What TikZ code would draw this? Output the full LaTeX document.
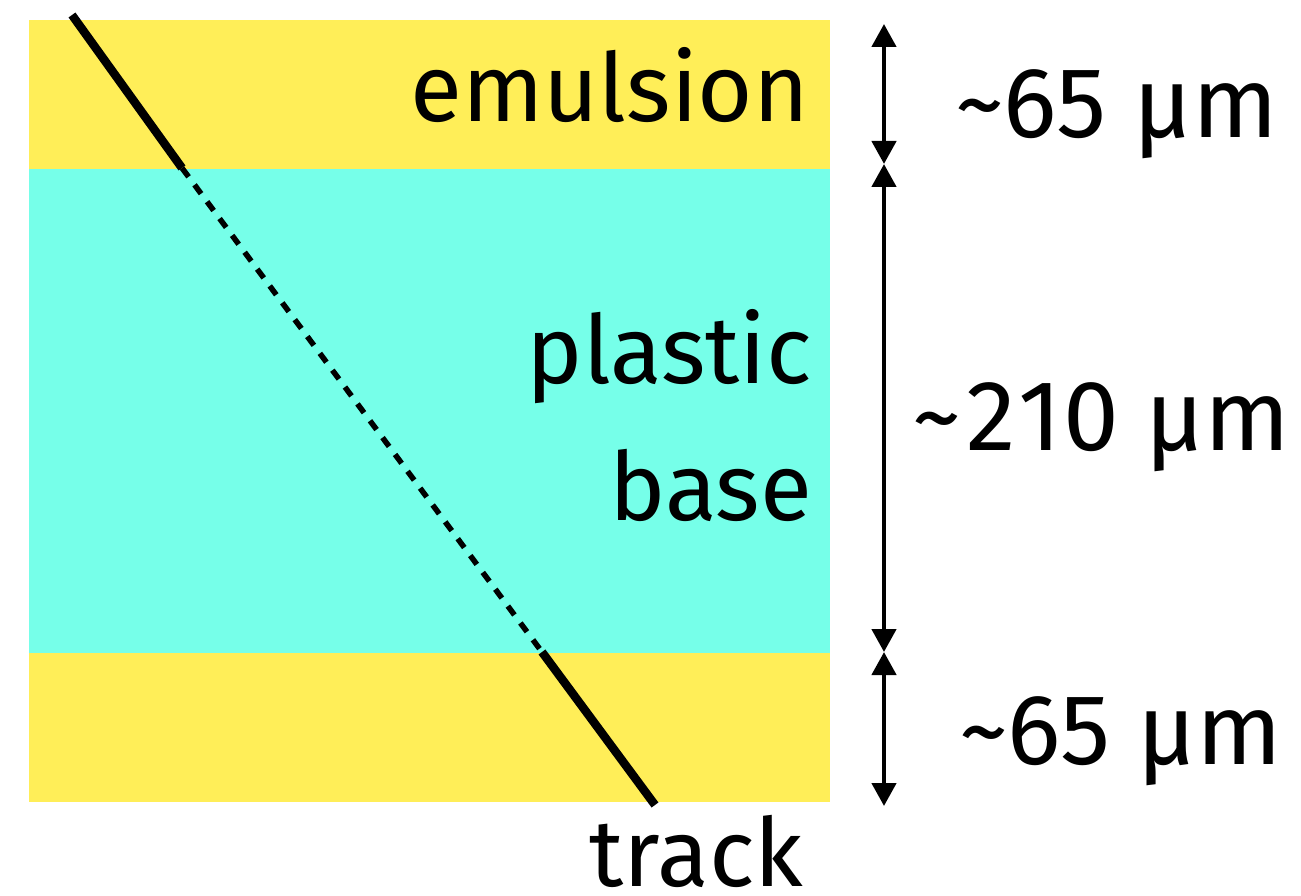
\documentclass[tikz,border=0pt]{standalone}
\usepackage{fontspec}
\setmainfont{Fira Sans}
\usetikzlibrary{arrows.meta}
\definecolor{emuls}{HTML}{FFEE58}
\definecolor{plast}{HTML}{76FFE9}
\tikzset{
  lbl/.style={inner sep=0pt, outer sep=0pt, font=\fontsize{95}{114}\selectfont},
  num/.style={inner sep=0pt, outer sep=0pt, font=\fontsize{100}{120}\selectfont},
  trk/.style={line width=8.5pt},
  trkdash/.style={line width=5.5pt, dash pattern=on 11pt off 10pt},
  dim/.style={line width=4.5pt, {Triangle[width=24pt,length=23pt]}-{Triangle[width=24pt,length=23pt]}}
}
\begin{document}
\begin{tikzpicture}[x=1pt,y=-1pt]
\useasboundingbox (0,0) rectangle (1301,896);
% layers
\fill[emuls] (29,20) rectangle (830,169);
\fill[plast] (29,169) rectangle (830,653);
\fill[emuls] (29,653) rectangle (830,802);
% labels
\node[lbl, anchor=base east] (emu) at (809,122) {emulsion};
\node[lbl, anchor=base east] (pla) at (812,383) {plastic};
\node[lbl, anchor=base east] (bas) at (812,520) {base};
\node[lbl, anchor=base east] (trkl) at (803,886) {track};
% track
\coordinate (t0) at (72,15);
\coordinate (t1) at (182,168);
\coordinate (t2) at (542,652);
\coordinate (t3) at (655,805);
\draw[trk] (t0) -- (t1);
\draw[trkdash] (t1) -- (t2);
\draw[trk] (t2) -- (t3);
% dimension arrows
\coordinate (d0) at (884,24);
\coordinate (d1) at (884,164);
\coordinate (d2) at (884,652);
\coordinate (d3) at (884,806);
\draw[dim] (d0) -- (d1);
\draw[dim] (d1) -- (d2);
\draw[dim] (d2) -- (d3);
% dimension labels
\node[num, anchor=base west] (n1) at (955,138) {\textasciitilde65 µm};
\node[num, anchor=base west] (n2) at (912,450) {\textasciitilde\kern6pt 2\kern2pt 1\kern2pt 0{} µm};
\node[num, anchor=base west] (n3) at (959,764) {\textasciitilde65 µm};
\end{tikzpicture}
\end{document}
